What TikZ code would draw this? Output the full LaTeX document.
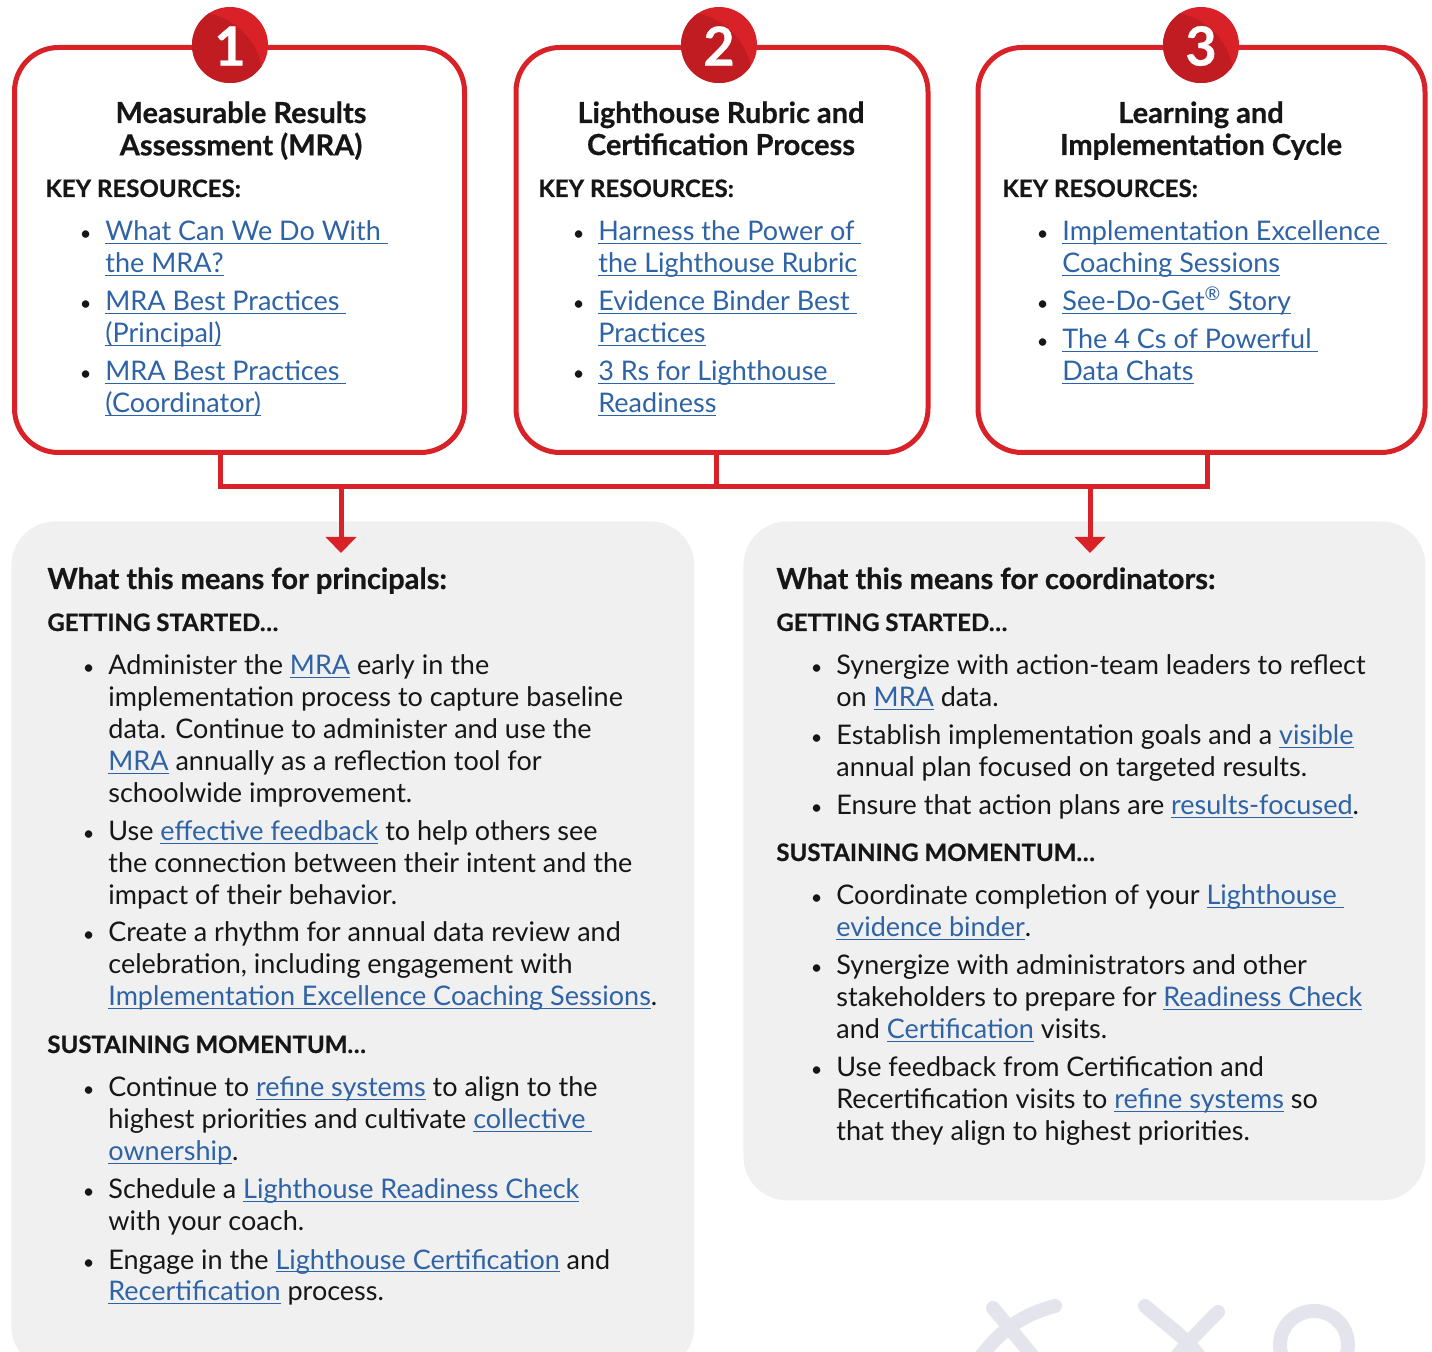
\documentclass[tikz,border=0pt]{standalone}
\usepackage{fontspec}
\setmainfont{Lato}[BoldFeatures={FakeBold=0.6}]
\usepackage{tikz}
\usetikzlibrary{arrows.meta}
\definecolor{lh-red}{HTML}{D92228}
\definecolor{lh-dark}{HTML}{C01C22}
\definecolor{lh-blue}{HTML}{2E63A6}
\definecolor{lh-text}{HTML}{161616}
\definecolor{lh-panel}{HTML}{F0F0F0}
\definecolor{lh-deco}{HTML}{E4E5EC}
\newcommand\bodyfont{\fontsize{13.5}{16}\selectfont}
\newcommand\textlines[1]{\begin{tabular}[t]{@{}l@{}}#1\end{tabular}}
\newcommand\ctrlines[1]{\begin{tabular}[t]{@{}c@{}}#1\end{tabular}}
\newcommand\bul{\llap{{\fontsize{10}{10}\selectfont\textbullet}\hspace{7pt}}}
\newcommand\weblink[1]{{\color{lh-blue}\setbox0\hbox{#1}\rlap{\rule[-1.6pt]{\wd0}{0.8pt}}\box0}}

\begin{document}
\begin{tikzpicture}[x=0.5pt, y=-0.5pt, >=latex,
    resbox/.style={draw=lh-red, line width=2.5pt, rounded corners=22pt, fill=white, inner sep=0pt, anchor=north west},
    panel/.style={fill=lh-panel, rounded corners=22pt, inner sep=0pt, anchor=north west},
    conn/.style={draw=lh-red, line width=2.5pt},
    numtxt/.style={text=white, font=\bfseries\fontsize{27}{27}\selectfont, inner sep=0pt},
    boxtitle/.style={anchor=base, inner sep=0pt, text=lh-text, font=\bfseries\fontsize{14.5}{16}\selectfont},
    keyhead/.style={anchor=base west, inner sep=0pt, text=lh-text, font=\bfseries\fontsize{12}{14}\selectfont},
    panelhead/.style={anchor=base west, inner sep=0pt, text=lh-text, font=\bfseries\fontsize{14.5}{16}\selectfont},
    txt/.style={anchor=base west, inner sep=0pt, text=lh-text, font=\bodyfont},
    decoshape/.style={draw=lh-deco, line width=7pt, line cap=round}]
    \useasboundingbox (0,0) rectangle (1432,1352);
    \clip (0,0) rectangle (1432,1352);

    % Gray panels
    \node[panel, minimum width=341.5pt, minimum height=424.5pt] (pL) at (11,521) {};
    \node[panel, minimum width=341pt, minimum height=339.5pt] (pR) at (743,521) {};

    % Resource boxes
    \node[resbox, minimum width=225pt, minimum height=202.5pt] (box1) at (12,45) {};
    \node[resbox, minimum width=206pt, minimum height=202.5pt] (box2) at (513.5,45) {};
    \node[resbox, minimum width=223.5pt, minimum height=202.5pt] (box3) at (975.5,45) {};

    % Connectors
    \coordinate (j1) at (220,487);
    \coordinate (j2) at (716,487);
    \coordinate (j3) at (1207,487);
    \coordinate (t1) at (341,553);
    \coordinate (t2) at (1090,553);
    \draw[conn] (box1.south -| j1) -- (j1) -- (j3) -- (box3.south -| j3);
    \draw[conn] (box2.south -| j2) -- (j2);
    \draw[conn, -{Triangle[width=15pt, length=8pt]}] (t1 |- j1) -- (t1);
    \draw[conn, -{Triangle[width=15pt, length=8pt]}] (t2 |- j1) -- (t2);

    % Number badges
    \foreach \n/\cx in {1/230, 2/719, 3/1201} {
        \fill[lh-red] (\cx,45) circle (38);
        \begin{scope}
            \clip (\cx,45) circle (38);
            \fill[lh-dark, shift={(\cx,45)}] (-35,35) circle (68);
        \end{scope}
        \node[numtxt] (n\n) at (\cx,46) {\n};
    }

    % Box 1
    \node[boxtitle] (b1t) at (241,123) {\ctrlines{Measurable Results\\ Assessment (MRA)}};
    \node[keyhead] (b1k) at (45,197) {KEY RESOURCES:};
    \node[txt] (b1a) at (105,241) {\textlines{\bul\weblink{What Can We Do With }\\ \weblink{the MRA?}}};
    \node[txt] (b1b) at (105,311) {\textlines{\bul\weblink{MRA Best Practices }\\ \weblink{(Principal)}}};
    \node[txt] (b1c) at (105,381) {\textlines{\bul\weblink{MRA Best Practices }\\ \weblink{(Coordinator)}}};

    % Box 2
    \node[boxtitle] (b2t) at (721,123) {\ctrlines{Lighthouse Rubric and\\ Certification Process}};
    \node[keyhead] (b2k) at (538,197) {KEY RESOURCES:};
    \node[txt] (b2a) at (598,241) {\textlines{\bul\weblink{Harness the Power of }\\ \weblink{the Lighthouse Rubric}}};
    \node[txt] (b2b) at (598,311) {\textlines{\bul\weblink{Evidence Binder Best }\\ \weblink{Practices}}};
    \node[txt] (b2c) at (598,381) {\textlines{\bul\weblink{3 Rs for Lighthouse }\\ \weblink{Readiness}}};

    % Box 3
    \node[boxtitle] (b3t) at (1201,123) {\ctrlines{Learning and\\ Implementation Cycle}};
    \node[keyhead] (b3k) at (1002,197) {KEY RESOURCES:};
    \node[txt] (b3a) at (1062,241) {\textlines{\bul\weblink{Implementation Excellence }\\ \weblink{Coaching Sessions}}};
    \node[txt] (b3b) at (1062,311) {\textlines{\bul\weblink{See-Do-Get\textsuperscript{®} Story}}};
    \node[txt] (b3c) at (1062,349) {\textlines{\bul\weblink{The 4 Cs of Powerful }\\ \weblink{Data Chats}}};

    % Principals
    \node[panelhead] (pLh) at (47,589) {What this means for principals:};
    \node[keyhead] (pLg) at (47,631) {GETTING STARTED…};
    \node[txt] (pL1) at (108,675) {\textlines{\bul Administer the \weblink{MRA} early in the\\ implementation process to capture baseline\\ data. Continue to administer and use the\\ \weblink{MRA} annually as a reflection tool for\\ schoolwide improvement.}};
    \node[txt] (pL2) at (108,841) {\textlines{\bul Use \weblink{effective feedback} to help others see\\ the connection between their intent and the\\ impact of their behavior.}};
    \node[txt] (pL3) at (108,942) {\textlines{\bul Create a rhythm for annual data review and\\ celebration, including engagement with\\ \weblink{Implementation Excellence Coaching Sessions}.}};
    \node[keyhead] (pLs) at (47,1053) {SUSTAINING MOMENTUM…};
    \node[txt] (pL4) at (108,1097) {\textlines{\bul Continue to \weblink{refine systems} to align to the\\ highest priorities and cultivate \weblink{collective }\\ \weblink{ownership}.}};
    \node[txt] (pL5) at (108,1199) {\textlines{\bul Schedule a \weblink{Lighthouse Readiness Check}\\ with your coach.}};
    \node[txt] (pL6) at (108,1269) {\textlines{\bul Engage in the \weblink{Lighthouse Certification} and\\ \weblink{Recertification} process.}};

    % Coordinators
    \node[panelhead] (pRh) at (776,589) {What this means for coordinators:};
    \node[keyhead] (pRg) at (776,631) {GETTING STARTED…};
    \node[txt] (pR1) at (836,675) {\textlines{\bul Synergize with action-team leaders to reflect\\ on \weblink{MRA} data.}};
    \node[txt] (pR2) at (836,745) {\textlines{\bul Establish implementation goals and a \weblink{visible}\\ annual plan focused on targeted results.}};
    \node[txt] (pR3) at (836,815) {\textlines{\bul Ensure that action plans are \weblink{results-focused}.}};
    \node[keyhead] (pRs) at (776,861) {SUSTAINING MOMENTUM…};
    \node[txt] (pR4) at (836,905) {\textlines{\bul Coordinate completion of your \weblink{Lighthouse }\\ \weblink{evidence binder}.}};
    \node[txt] (pR5) at (836,975) {\textlines{\bul Synergize with administrators and other\\ stakeholders to prepare for \weblink{Readiness Check}\\ and \weblink{Certification} visits.}};
    \node[txt] (pR6) at (836,1077) {\textlines{\bul Use feedback from Certification and\\ Recertification visits to \weblink{refine systems} so\\ that they align to highest priorities.}};

    % Faint marks
    \draw[decoshape] (1055,1306) .. controls (1025,1314) and (1000,1328) .. (975,1365);
    \draw[decoshape] (993,1308) -- (1040,1365);
    \draw[decoshape] (1145,1306) .. controls (1170,1328) and (1190,1340) .. (1205,1365);
    \draw[decoshape] (1218,1312) .. controls (1200,1330) and (1185,1345) .. (1170,1365);
    \draw[decoshape] (1314,1345) circle (34);
\end{tikzpicture}
\end{document}
